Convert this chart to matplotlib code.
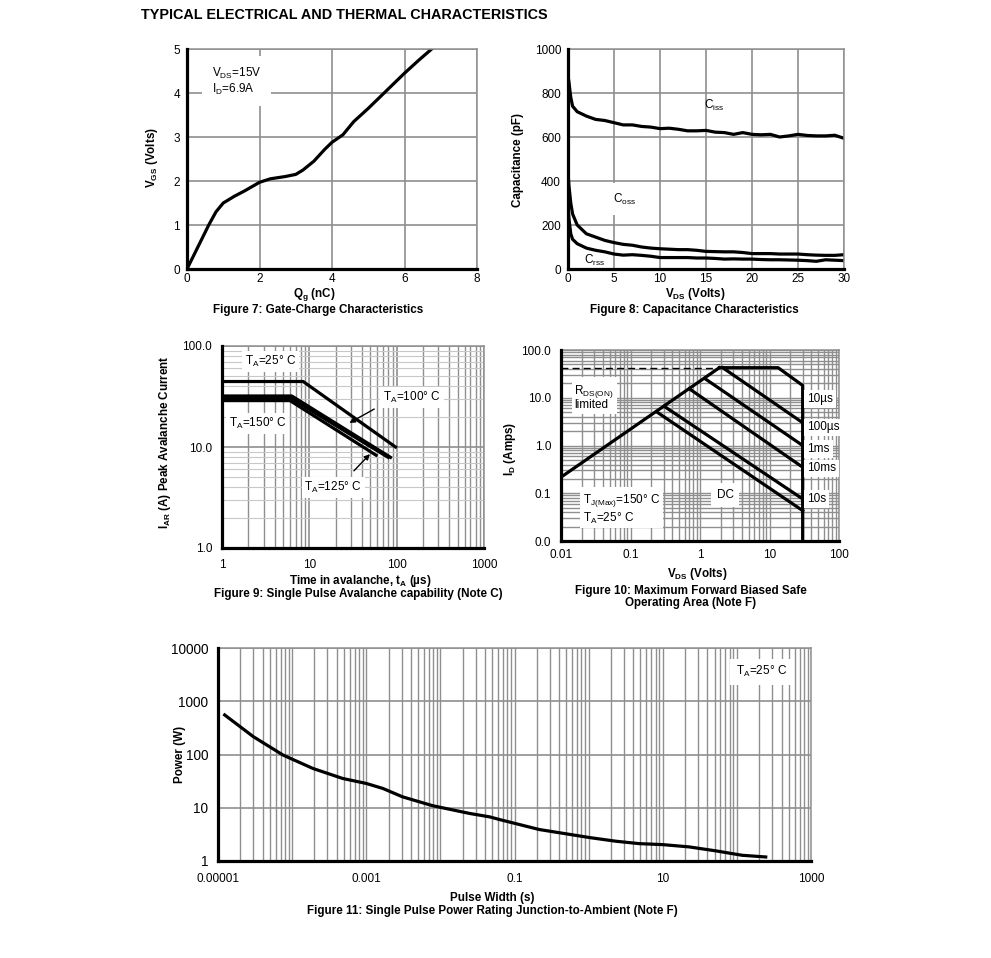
import numpy as np
import matplotlib
matplotlib.use('Agg')
import matplotlib.pyplot as plt
from matplotlib.ticker import FixedLocator, FixedFormatter, NullFormatter

plt.rcParams['font.family'] = ['Liberation Sans', 'DejaVu Sans']
plt.rcParams['mathtext.fontset'] = 'custom'
plt.rcParams['mathtext.rm'] = 'Liberation Sans'
plt.rcParams['mathtext.it'] = 'Liberation Sans:italic'
plt.rcParams['mathtext.bf'] = 'Liberation Sans:bold'

W, H = 991, 958
GRID = '#8f8f8f'
FS = 8.5    # tick labels and notes
LFS = 8.4   # bold axis labels and captions

# Figure 7: gate charge
qg = [0, 0.3, 0.6, 0.8, 1.0, 1.3, 1.6, 2.0, 2.3, 2.7, 3.0, 3.2, 3.5, 3.8, 4.0, 4.3,
      4.6, 5.0, 5.5, 6.0, 6.4, 6.75]
vgs = [0, 0.5, 1.0, 1.3, 1.5, 1.65, 1.78, 1.97, 2.05, 2.1, 2.15, 2.25, 2.45, 2.72,
       2.88, 3.05, 3.35, 3.65, 4.05, 4.45, 4.75, 5.0]

# Figure 8: capacitance
vds_c = [0, 0.1, 0.3, 0.5, 1, 2, 3, 4, 5, 6, 7, 8, 9, 10, 11, 12, 13, 14, 15, 16,
         17, 18, 19, 20, 21, 22, 23, 24, 25, 26, 27, 28, 29, 30]
ciss = [880, 850, 780, 740, 715, 695, 680, 675, 665, 655, 655, 648, 645, 638, 640,
        635, 628, 628, 630, 622, 620, 612, 620, 612, 610, 612, 600, 605, 612, 607,
        605, 605, 608, 594]
coss = [440, 380, 300, 250, 200, 160, 145, 130, 120, 112, 108, 100, 95, 92, 90, 88,
        88, 85, 80, 79, 78, 78, 75, 70, 70, 70, 68, 68, 68, 65, 63, 62, 62, 65]
crss = [290, 230, 160, 135, 115, 95, 85, 78, 68, 63, 65, 62, 58, 52, 52, 52, 52, 50,
        50, 48, 45, 46, 45, 45, 43, 42, 42, 41, 40, 38, 35, 42, 40, 38]

# Figure 9: avalanche
ta_25_t = [1, 8.5, 97]
ta_25_i = [44.5, 44.5, 10]
ta_100_t = [1, 6.3, 85]
ta_100_i = [32, 32, 7.9]
ta_125_t = [1, 6.1, 80]
ta_125_i = [30.5, 30.5, 7.9]
ta_150_t = [1, 6.0, 58]
ta_150_i = [28.8, 28.8, 8.3]

# Figure 10: SOA
rds_v = [0.01, 1.9]
rds_i = [0.217, 42.6]
us10_v = [1.9, 13.3, 30, 30]
us10_i = [42.6, 42.6, 18.1, 0.01]
us100_v = [2.12, 30]
us100_i = [42.6, 3.0]
ms1_v = [1.18, 30]
ms1_i = [25.1, 1.0]
ms10_v = [0.703, 30]
ms10_i = [15.4, 0.351]
s10_v = [0.307, 30]
s10_i = [6.58, 0.076]
dc_v = [0.241, 30]
dc_i = [5.0, 0.0433]

# Figure 11: single pulse power
pw_t = [1.23e-5, 3e-5, 7.5e-5, 1.9e-4, 4.8e-4, 1e-3, 1.68e-3, 3.1e-3, 7.9e-3, 0.025,
        0.046, 0.063, 0.216, 1.02, 2.34, 4.8, 10, 22.7, 52, 118, 245]
pw_p = [553, 216, 98, 54.8, 35.5, 28.6, 23, 16, 10.9, 7.8, 6.75, 6.0, 3.9, 2.76,
        2.35, 2.12, 2.03, 1.84, 1.55, 1.28, 1.19]

fig = plt.figure(figsize=(W / 100, H / 100), dpi=100)


def box(l, t, r, b):
    return fig.add_axes([l / W, 1 - b / H, (r - l) / W, (b - t) / H])


def label(x, y, s, **kw):
    kw.setdefault('fontsize', LFS)
    kw.setdefault('ha', 'center')
    kw.setdefault('va', 'center')
    kw.setdefault('fontweight', 'bold')
    fig.text(x / W, 1 - y / H, s, **kw)


def style(ax, xpad=8, ypad=5):
    for s in ['left', 'bottom']:
        ax.spines[s].set_linewidth(2.3)
        ax.spines[s].set_color('black')
        ax.spines[s].set_zorder(5)
    for s in ['top', 'right']:
        ax.spines[s].set_linewidth(1.1)
        ax.spines[s].set_color(GRID)
    ax.tick_params(which='both', length=0, labelsize=FS)
    ax.tick_params(axis='x', pad=xpad)
    ax.tick_params(axis='y', pad=ypad)
    ax.set_axisbelow(True)


def decades(lo, hi):
    return [k * 10.0 ** n for n in range(lo, hi) for k in range(1, 10)]


white = dict(facecolor='white', edgecolor='none', pad=2)

label(141, 15, 'TYPICAL ELECTRICAL AND THERMAL CHARACTERISTICS', fontsize=10.4,
      ha='left')

# ---- Figure 7
ax7 = box(187, 49, 477, 269)
style(ax7, xpad=3)
ax7.plot(qg, vgs, color='black', lw=2.3)
ax7.set_xlim(0, 8)
ax7.set_ylim(0, 5)
ax7.set_xticks([0, 2, 4, 6, 8])
ax7.set_yticks([0, 1, 2, 3, 4, 5])
ax7.grid(True, color=GRID, lw=1.2)
ax7.text(0.68, 4.27, 'V$_{\\mathregular{DS}}$=15V\nI$_{\\mathregular{D}}$=6.9A',
         fontsize=FS, va='center', linespacing=1.1,
         bbox=dict(facecolor='white', edgecolor='none', pad=7))
label(152, 158, 'V$_{\\mathregular{GS}}$ (Volts)', rotation=90)
label(314, 294.5, 'Q$_{\\mathregular{g}}$ (nC)')
label(318, 309.5, 'Figure 7: Gate-Charge Characteristics')

# ---- Figure 8
ax8 = box(568, 49, 844, 269)
style(ax8, xpad=3)
ax8.plot(vds_c, ciss, color='black', lw=2.3)
ax8.plot(vds_c, coss, color='black', lw=2.3)
ax8.plot(vds_c, crss, color='black', lw=2.3)
ax8.set_xlim(0, 30)
ax8.set_ylim(0, 1000)
ax8.set_xticks([0, 5, 10, 15, 20, 25, 30])
ax8.set_yticks([0, 200, 400, 600, 800, 1000])
ax8.grid(True, color=GRID, lw=1.2)
ax8.text(14.8, 745, 'C$_{\\mathregular{iss}}$', fontsize=FS, va='center')
ax8.text(4.9, 318, 'C$_{\\mathregular{oss}}$', fontsize=FS, va='center',
         bbox=dict(facecolor='white', edgecolor='none', pad=6))
ax8.text(1.7, 41, 'C$_{\\mathregular{rss}}$', fontsize=FS, va='center')
label(518, 160, 'Capacitance (pF)', rotation=90)
label(695, 294.5, 'V$_{\\mathregular{DS}}$ (Volts)')
label(694, 309.5, 'Figure 8: Capacitance Characteristics')

# ---- Figure 9
ax9 = box(222, 346, 484, 548)
style(ax9, xpad=8, ypad=7)
ax9.set_xscale('log')
ax9.set_yscale('log')
for t, i in [(ta_25_t, ta_25_i), (ta_100_t, ta_100_i), (ta_125_t, ta_125_i),
             (ta_150_t, ta_150_i)]:
    ax9.plot(t, i, color='black', lw=2.3)
ax9.set_xlim(1, 1000)
ax9.set_ylim(1, 100)
ax9.xaxis.set_major_locator(FixedLocator([1, 10, 100, 1000]))
ax9.xaxis.set_major_formatter(FixedFormatter(['1', '10', '100', '1000']))
ax9.yaxis.set_major_locator(FixedLocator([1, 10, 100]))
ax9.yaxis.set_major_formatter(FixedFormatter(['1.0', '10.0', '100.0']))
ax9.xaxis.set_minor_locator(FixedLocator(decades(0, 3)))
ax9.yaxis.set_minor_locator(FixedLocator(decades(0, 2)))
ax9.xaxis.set_minor_formatter(NullFormatter())
ax9.yaxis.set_minor_formatter(NullFormatter())
ax9.grid(True, which='major', color=GRID, lw=1.2)
ax9.grid(True, which='minor', axis='x', color=GRID, lw=1.0)
ax9.grid(True, which='minor', axis='y', color='#c8c8c8', lw=0.8)
ax9.text(1.85, 70, 'T$_{\\mathregular{A}}$=25° C', fontsize=FS, va='center', bbox=white)
ax9.text(70, 30.8, 'T$_{\\mathregular{A}}$=100° C', fontsize=FS, va='center', bbox=white)
ax9.text(1.2, 17.2, 'T$_{\\mathregular{A}}$=150° C', fontsize=FS, va='center', bbox=white)
ax9.text(8.8, 3.95, 'T$_{\\mathregular{A}}$=125° C', fontsize=FS, va='center', bbox=white)
ax9.annotate('', xy=(27, 16.8), xytext=(59, 24.5),
             arrowprops=dict(arrowstyle='-|>', color='black', lw=1.0, mutation_scale=8))
ax9.annotate('', xy=(52, 8.9), xytext=(30.8, 5.55),
             arrowprops=dict(arrowstyle='-|>', color='black', lw=1.0, mutation_scale=8))
label(165, 442, 'I$_{\\mathregular{AR}}$ (A) Peak Avalanche Current', rotation=90)
label(360, 581, 'Time in avalanche, t$_{\\mathregular{A}}$ (µs)')
label(358, 594, 'Figure 9: Single Pulse Avalanche capability (Note C)')

# ---- Figure 10
ax10 = box(561, 350, 839, 541)
style(ax10, xpad=6, ypad=7)
ax10.set_xscale('log')
ax10.set_yscale('log')
ax10.plot([rds_v[0], rds_v[1]], [rds_i[1], rds_i[1]], color='black', lw=1.0,
          ls=(0, (5, 3)))
ax10.plot(rds_v, rds_i, color='black', lw=2.3)
for v, i in [(us10_v, us10_i), (us100_v, us100_i), (ms1_v, ms1_i), (ms10_v, ms10_i),
             (s10_v, s10_i), (dc_v, dc_i)]:
    ax10.plot(v, i, color='black', lw=2.3)
ax10.set_xlim(0.01, 100)
ax10.set_ylim(0.01, 100)
ax10.xaxis.set_major_locator(FixedLocator([0.01, 0.1, 1, 10, 100]))
ax10.xaxis.set_major_formatter(FixedFormatter(['0.01', '0.1', '1', '10', '100']))
ax10.yaxis.set_major_locator(FixedLocator([0.01, 0.1, 1, 10, 100]))
ax10.yaxis.set_major_formatter(FixedFormatter(['0.0', '0.1', '1.0', '10.0', '100.0']))
ax10.xaxis.set_minor_locator(FixedLocator(decades(-2, 2)))
ax10.yaxis.set_minor_locator(FixedLocator(decades(-2, 2)))
ax10.xaxis.set_minor_formatter(NullFormatter())
ax10.yaxis.set_minor_formatter(NullFormatter())
ax10.grid(True, which='both', color=GRID, lw=1.0)
ax10.text(0.0156, 10.3, 'R$_{\\mathregular{DS(ON)}}$\nlimited', fontsize=FS, va='center',
          linespacing=0.95, bbox=white)
ax10.text(0.0205, 0.047, 'T$_{\\mathregular{J(Max)}}$=150° C\nT$_{\\mathregular{A}}$=25° C',
          fontsize=FS, va='center', linespacing=1.1, bbox=white)
ax10.text(2.3, 0.092, 'DC', fontsize=FS, ha='center', va='center',
          bbox=dict(facecolor='white', edgecolor='none', pad=4))
for s, y in [('10µs', 9.5), ('100µs', 2.4), ('1ms', 0.85), ('10ms', 0.33),
             ('10s', 0.076)]:
    ax10.text(35, y, s, fontsize=FS, va='center', bbox=white)
label(510, 449, 'I$_{\\mathregular{D}}$ (Amps)', rotation=90)
label(697, 577, 'V$_{\\mathregular{DS}}$ (Volts)', va='baseline')
label(691, 597, 'Figure 10: Maximum Forward Biased Safe\nOperating Area (Note F)',
      linespacing=1.1)

# ---- Figure 11
ax11 = box(218, 648, 811, 861)
style(ax11, xpad=9, ypad=7)
ax11.tick_params(axis='y', labelsize=9.8)
ax11.set_xscale('log')
ax11.set_yscale('log')
ax11.plot(pw_t, pw_p, color='black', lw=2.3)
ax11.set_xlim(1e-5, 1000)
ax11.set_ylim(1, 10000)
ax11.xaxis.set_major_locator(FixedLocator([1e-5, 1e-3, 0.1, 10, 1000]))
ax11.xaxis.set_major_formatter(FixedFormatter(['0.00001', '0.001', '0.1', '10', '1000']))
ax11.yaxis.set_major_locator(FixedLocator([1, 10, 100, 1000, 10000]))
ax11.yaxis.set_major_formatter(FixedFormatter(['1', '10', '100', '1000', '10000']))
ax11.xaxis.set_minor_locator(FixedLocator(decades(-5, 3)))
ax11.yaxis.set_minor_locator(FixedLocator([]))
ax11.xaxis.set_minor_formatter(NullFormatter())
ax11.grid(True, which='major', axis='y', color=GRID, lw=1.2)
ax11.grid(True, which='both', axis='x', color=GRID, lw=1.0)
ax11.text(215, 3560, 'T$_{\\mathregular{A}}$=25° C', fontsize=FS, ha='center', va='center',
          bbox=dict(facecolor='white', edgecolor='none', pad=4))
label(180, 754, 'Power (W)', rotation=90)
label(492, 898, 'Pulse Width (s)')
label(492, 911, 'Figure 11: Single Pulse Power Rating Junction-to-Ambient (Note F)')

fig.savefig('out.png', dpi=100)
